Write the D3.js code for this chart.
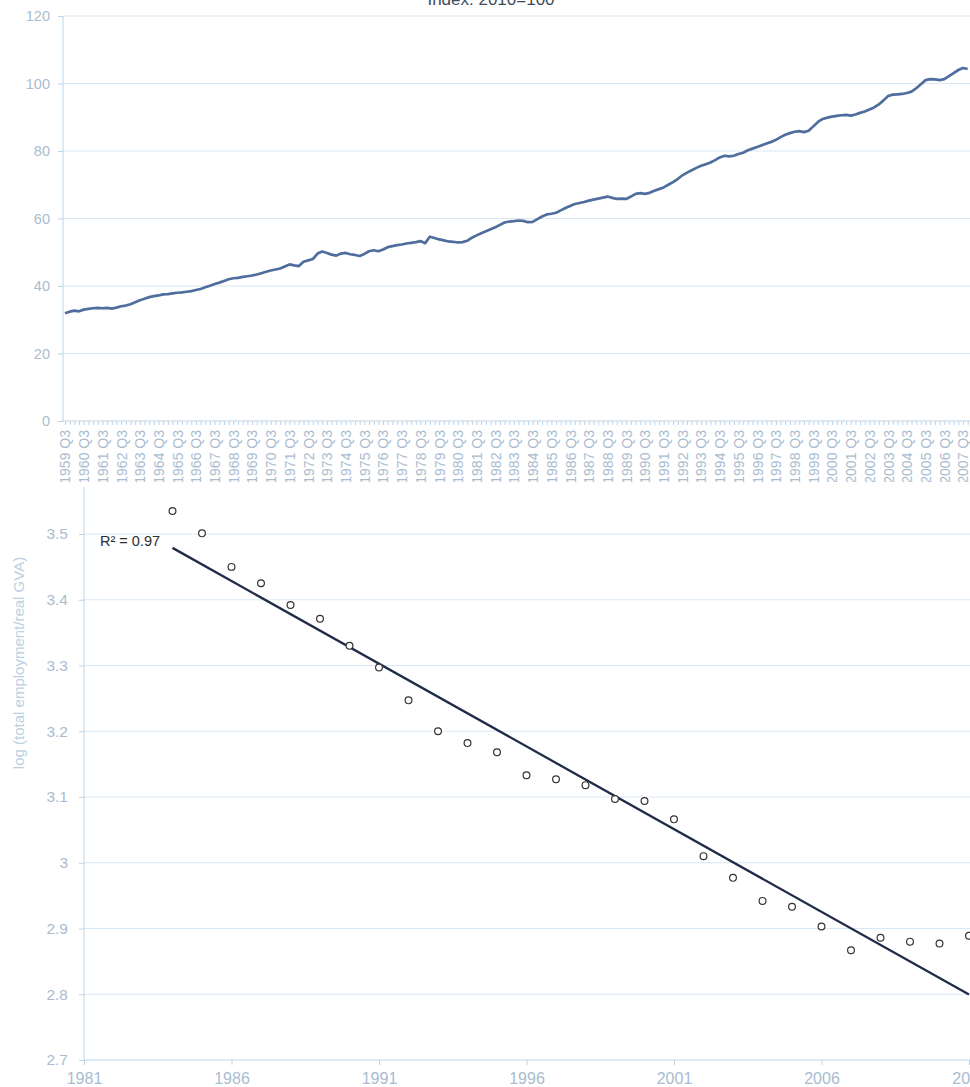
<!DOCTYPE html>
<html>
<head>
<meta charset="utf-8">
<script src="https://cdn.jsdelivr.net/npm/d3@7/dist/d3.min.js"></script>
<style>
  html, body { margin: 0; padding: 0; background: #fff; overflow: hidden; }
  svg { display: block; font-family: "Liberation Sans", Arial, sans-serif; }
</style>
</head>
<body>
<svg id="chart" width="970" height="1087"></svg>
<script>
// ---- Upper panel: quarterly index (2010 = 100), from 1959 Q3 ----
const startYear = 1959;
const startQuarter = 3;
const indexValues = [
  31.9, 32.4, 32.7, 32.5,   33.0, 33.2, 33.4, 33.5,   33.4, 33.5, 33.3, 33.6,
  34.0, 34.2, 34.6, 35.2,   35.8, 36.2, 36.7, 37.0,   37.2, 37.5, 37.6, 37.8,
  38.0, 38.1, 38.3, 38.5,   38.8, 39.1, 39.6, 40.1,   40.6, 41.0, 41.5, 42.0,
  42.3, 42.4, 42.7, 42.9,   43.1, 43.4, 43.8, 44.2,   44.6, 44.9, 45.2, 45.8,
  46.4, 46.1, 45.9, 47.2,   47.6, 48.0, 49.6, 50.2,   49.8, 49.3, 49.0, 49.6,
  49.8, 49.4, 49.2, 48.9,   49.5, 50.3, 50.6, 50.3,   50.8, 51.5, 51.8, 52.1,
  52.3, 52.6, 52.8, 53.0,   53.3, 52.7, 54.6, 54.2,   53.8, 53.5, 53.2, 53.1,
  52.9, 53.0, 53.4, 54.3,   55.0, 55.6, 56.2, 56.8,   57.4, 58.1, 58.8, 59.1,
  59.2, 59.4, 59.3, 58.9,   59.0, 59.8, 60.6, 61.2,   61.4, 61.7, 62.4, 63.1,
  63.7, 64.3, 64.6, 64.9,   65.3, 65.6, 65.9, 66.2,   66.5, 66.1, 65.8, 65.9,
  65.8, 66.5, 67.3, 67.5,   67.3, 67.6, 68.2, 68.7,   69.2, 70.0, 70.8, 71.7,
  72.8, 73.6, 74.3, 75.0,   75.6, 76.1, 76.6, 77.3,   78.1, 78.6, 78.4, 78.6,
  79.1, 79.5, 80.2, 80.7,   81.2, 81.7, 82.2, 82.7,   83.3, 84.1, 84.8, 85.3,
  85.7, 85.9, 85.6, 86.0,   87.3, 88.6, 89.5, 89.9,   90.2, 90.4, 90.6, 90.7,
  90.5, 90.8, 91.3, 91.7,   92.3, 92.9, 93.8, 95.0,   96.3, 96.7, 96.8, 96.9,
  97.2, 97.6, 98.6, 99.8,   101.0, 101.3, 101.2, 101.0, 101.3, 102.2, 103.1, 104.0,
  104.6, 104.3
];
const indexTicks = [0, 20, 40, 60, 80, 100, 120];
const indexTitle = "Index: 2010=100";

// ---- Lower panel: annual log ratio with linear trend ----
const ratioYears = [
  1984, 1985, 1986, 1987, 1988, 1989, 1990, 1991, 1992, 1993, 1994, 1995, 1996, 1997,
  1998, 1999, 2000, 2001, 2002, 2003, 2004, 2005, 2006, 2007, 2008, 2009, 2010, 2011
];
const ratioValues = [
  3.535, 3.501, 3.450, 3.425, 3.392, 3.371, 3.330, 3.297, 3.247, 3.200, 3.182, 3.168, 3.133, 3.127,
  3.118, 3.097, 3.094, 3.066, 3.010, 2.977, 2.942, 2.933, 2.903, 2.867, 2.886, 2.880, 2.877, 2.889
];
const ratioYTicks = [2.7, 2.8, 2.9, 3.0, 3.1, 3.2, 3.3, 3.4, 3.5];
const ratioXTicks = [1981, 1986, 1991, 1996, 2001, 2006, 2011];
const ratioYLabel = "log (total employment/real GVA)";

// quarter category names, e.g. "1959 Q3"
const quarters = indexValues.map((_, i) => {
  const k = (startQuarter - 1) + i;
  return `${startYear + Math.floor(k / 4)} Q${(k % 4) + 1}`;
});

const svg = d3.select("#chart");
const W = 970;

const gridColor = "#d9e7f4";
const axisColor = "#bcd4e8";
const labelColor = "#a9bcd0";

// ================= Upper panel =================
const upper = svg.append("g");
const xQ = d3.scalePoint().domain(quarters).range([65, 65 + 4.677 * (quarters.length - 1)]);
const yI = d3.scaleLinear().domain([0, 120]).range([421, 16]);

upper.append("text")
  .attr("x", 491).attr("y", 5)
  .attr("text-anchor", "middle")
  .attr("font-size", 17)
  .attr("fill", "#3f4b5c")
  .text(indexTitle);

upper.append("g").selectAll("line")
  .data(indexTicks.filter(d => d > 0))
  .join("line")
  .attr("x1", 63).attr("x2", W)
  .attr("y1", d => yI(d)).attr("y2", d => yI(d))
  .attr("stroke", gridColor).attr("stroke-width", 1);

const yAxisTop = upper.append("g")
  .attr("transform", "translate(63,0)")
  .call(d3.axisLeft(yI).tickValues(indexTicks).tickSize(5).tickPadding(8));
yAxisTop.select(".domain").remove();
yAxisTop.selectAll(".tick line").attr("stroke", axisColor);
yAxisTop.selectAll(".tick text")
  .attr("font-size", 14.5).attr("fill", labelColor)
  .attr("font-family", "Liberation Sans, Arial, sans-serif");

upper.append("line")
  .attr("x1", 63).attr("x2", 63).attr("y1", yI(120)).attr("y2", yI(0))
  .attr("stroke", axisColor);
upper.append("line")
  .attr("x1", 63).attr("x2", W).attr("y1", yI(0)).attr("y2", yI(0))
  .attr("stroke", axisColor);

const xAxisTop = upper.append("g")
  .attr("transform", `translate(0,${yI(0)})`)
  .call(d3.axisBottom(xQ).tickSize(4)
    .tickFormat(d => d.endsWith("Q3") ? d : ""));
xAxisTop.select(".domain").remove();
xAxisTop.selectAll(".tick line").attr("stroke", axisColor);
xAxisTop.selectAll(".tick text")
  .attr("font-size", 14).attr("fill", labelColor)
  .attr("font-family", "Liberation Sans, Arial, sans-serif")
  .attr("transform", "rotate(-90)")
  .attr("text-anchor", "end")
  .attr("x", -9).attr("y", 0).attr("dy", "0.35em");

upper.append("path")
  .datum(indexValues)
  .attr("fill", "none")
  .attr("stroke", "#4f6e9e")
  .attr("stroke-width", 2.7)
  .attr("stroke-linejoin", "round")
  .attr("d", d3.line().x((d, i) => xQ(quarters[i])).y(d => yI(d)));

// ================= Lower panel =================
const lower = svg.append("g");
lower.append("rect").attr("x", 0).attr("y", 482).attr("width", W).attr("height", 1087 - 482).attr("fill", "#fff");

const xY = d3.scaleLinear().domain([1981, 2011]).range([84, 969]);
const yR = d3.scaleLinear().domain([2.7, 3.5]).range([1060, 534]);
const plotTop = 487;

lower.append("g").selectAll("line")
  .data(ratioYTicks.filter(d => d > 2.7))
  .join("line")
  .attr("x1", 84).attr("x2", W)
  .attr("y1", d => yR(d)).attr("y2", d => yR(d))
  .attr("stroke", gridColor).attr("stroke-width", 1);

const yAxisBot = lower.append("g")
  .attr("transform", "translate(84,0)")
  .call(d3.axisLeft(yR).tickValues(ratioYTicks).tickSize(5).tickPadding(11)
    .tickFormat(d => Math.abs(d - 3) < 1e-9 ? "3" : d3.format(".1f")(d)));
yAxisBot.select(".domain").remove();
yAxisBot.selectAll(".tick line").attr("stroke", axisColor);
yAxisBot.selectAll(".tick text")
  .attr("font-size", 15.5).attr("fill", labelColor)
  .attr("font-family", "Liberation Sans, Arial, sans-serif");

lower.append("line")
  .attr("x1", 84).attr("x2", 84).attr("y1", plotTop).attr("y2", yR(2.7))
  .attr("stroke", axisColor);
lower.append("line")
  .attr("x1", 84).attr("x2", W).attr("y1", yR(2.7)).attr("y2", yR(2.7))
  .attr("stroke", axisColor);

const xAxisBot = lower.append("g")
  .attr("transform", `translate(0,${yR(2.7)})`)
  .call(d3.axisBottom(xY).tickValues(ratioXTicks).tickSize(5).tickPadding(8)
    .tickFormat(d3.format("d")));
xAxisBot.select(".domain").remove();
xAxisBot.selectAll(".tick line").attr("stroke", axisColor);
xAxisBot.selectAll(".tick text")
  .attr("font-size", 16).attr("fill", labelColor)
  .attr("font-family", "Liberation Sans, Arial, sans-serif");

lower.append("text")
  .attr("transform", "translate(24,663) rotate(-90)")
  .attr("text-anchor", "middle")
  .attr("font-size", 15)
  .attr("fill", "#bcd0e3")
  .text(ratioYLabel);

// least-squares trend line and its R²
const n = ratioYears.length;
const mx = d3.mean(ratioYears), my = d3.mean(ratioValues);
let sxy = 0, sxx = 0, syy = 0;
for (let i = 0; i < n; i++) {
  const dx = ratioYears[i] - mx, dy = ratioValues[i] - my;
  sxy += dx * dy; sxx += dx * dx; syy += dy * dy;
}
const slope = sxy / sxx;
const intercept = my - slope * mx;
const r2 = (sxy * sxy) / (sxx * syy);
const x0 = d3.min(ratioYears), x1 = d3.max(ratioYears);

lower.append("line")
  .attr("x1", xY(x0)).attr("y1", yR(intercept + slope * x0))
  .attr("x2", xY(x1)).attr("y2", yR(intercept + slope * x1))
  .attr("stroke", "#1f2b48").attr("stroke-width", 2.3);

lower.append("g").selectAll("circle")
  .data(ratioYears.map((yr, i) => [yr, ratioValues[i]]))
  .join("circle")
  .attr("cx", d => xY(d[0])).attr("cy", d => yR(d[1]))
  .attr("r", 3.4)
  .attr("fill", "#fff")
  .attr("stroke", "#333")
  .attr("stroke-width", 1.2);

lower.append("text")
  .attr("x", 100).attr("y", 546)
  .attr("font-size", 14.5)
  .attr("fill", "#2e2e2e")
  .text(`R² = ${r2.toFixed(2)}`);
</script>
</body>
</html>
